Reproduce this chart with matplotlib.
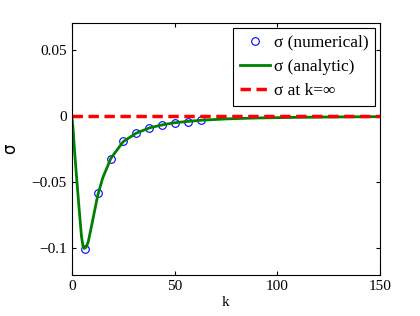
import matplotlib
matplotlib.use('Agg')
import matplotlib.pyplot as plt

# numerical values (k = 2*pi*n)
k_num = [6.28, 12.57, 18.85, 25.13, 31.42, 37.70, 43.98, 50.27, 56.55, 62.83]
sigma_num = [-0.1005, -0.058, -0.0323, -0.0192, -0.0131, -0.0088, -0.0071, -0.0051, -0.0045, -0.0035]

# analytic curve
k_ana = [0, 0.65, 1.3, 2.3, 3.6, 4.7, 5.4, 6.0, 7, 8, 10, 12.6, 15, 19, 25, 31.4, 38, 44, 50, 57, 63,
         75, 90, 110, 130, 150]
sigma_ana = [0, -0.0106, -0.026, -0.046, -0.071, -0.091, -0.098, -0.1, -0.099, -0.095, -0.08, -0.06,
             -0.047, -0.032, -0.0195, -0.013, -0.009, -0.0068, -0.0052, -0.0041, -0.0033,
             -0.0023, -0.0016, -0.0011, -0.0008, -0.0006]

# limit at k = infinity
k_inf = [0, 150]
sigma_inf = [0, 0]

plt.rcParams['font.family'] = ['Liberation Serif', 'DejaVu Serif']
plt.rcParams['font.size'] = 10

fig = plt.figure(figsize=(4.2, 3.16), dpi=100)
ax = fig.add_axes([0.171, 0.130, 0.734, 0.797])

ax.plot(k_num, sigma_num, 'o', mfc='none', mec='blue', ms=5.5, mew=0.8, label='σ (numerical)')
ax.plot(k_ana, sigma_ana, '-', color='#008000', lw=2, label='σ (analytic)')
ax.plot(k_inf, sigma_inf, '--', color='red', lw=2.5, dashes=(3, 1.6), label='σ at k=∞')

ax.set_xlim(0, 150)
ax.set_ylim(-0.12, 0.07)
ax.set_xticks([0, 50, 100, 150])
ax.set_yticks([-0.1, -0.05, 0, 0.05])
ax.set_yticklabels(['−0.1', '−0.05', '0', '0.05'])
ax.tick_params(direction='in', top=True, right=True, length=3, labelsize=11)
ax.set_xlabel('k', fontsize=11, labelpad=2)
ax.set_ylabel('σ', fontsize=12, labelpad=9, family=['DejaVu Sans'])

leg = ax.legend(loc='upper right', fontsize=12.5, fancybox=False, framealpha=1,
                edgecolor='black', borderaxespad=0.27, handlelength=1.75,
                handletextpad=0.2, labelspacing=0.45, borderpad=0.4)
leg.get_frame().set_linewidth(0.8)

fig.savefig('out.png', dpi=100)
